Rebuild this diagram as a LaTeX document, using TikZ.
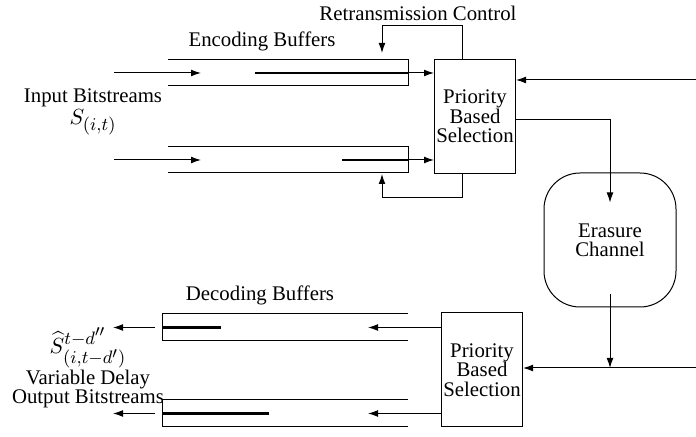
\documentclass[tikz,border=0pt]{standalone}
\usepackage{amsmath}
\usepackage{amssymb}
\usepackage{fontspec}
\setmainfont{Liberation Serif}
\DeclareMathSizes{10.4}{11}{9.5}{8}
\usetikzlibrary{arrows.meta}

\begin{document}
\begin{tikzpicture}[x=0.5pt, y=-0.5pt, line width=0.5pt,
	>={Latex[length=5pt,width=3.4pt]},
	font=\fontsize{10.4}{9.7}\selectfont,
	selbox/.style={draw, align=center, inner sep=0pt, minimum width=40.5pt, minimum height=57pt},
	chanbox/.style={draw, align=center, rounded corners=18pt, minimum width=66pt, minimum height=67pt},
	fillline/.style={line width=1.2pt}]
	\useasboundingbox (0,0) rectangle (696,437);
	\node[selbox] (sel1) at (475,116.5) {Priority\\Based\\Selection};
	\node[selbox] (sel2) at (482,370) {Priority\\Based\\Selection};
	\node[chanbox] (chan) at (610,240) {Erasure\\Channel};
	\foreach \y/\f [count=\i] in {60/255, 147/342} {
		\draw (168,\y) -- (408,\y) -- (408,\y+26) -- (168,\y+26);
		\coordinate (enc\i) at (408,\y+13);
		\draw[fillline] (\f,\y+13) -- (enc\i);
		\draw[->] (114,\y+13) -- (201,\y+13);
		\draw[->] (enc\i) -- (sel1.west |- enc\i);
	}
	\foreach \y/\f [count=\i] in {314/221, 400/269} {
		\draw (408,\y) -- (162,\y) -- (162,\y+27) -- (408,\y+27);
		\coordinate (dec\i) at (162,\y+13.5);
		\draw[fillline] (dec\i) -- (\f,\y+13.5);
		\draw[->] (sel2.west |- dec\i) -- (368,\y+13.5);
		\draw[->] ([xshift=-3.5pt]dec\i) -- (113,\y+13.5);
	}
	\draw[->] ([xshift=-6.5pt]sel1.north) |- (382,26) -- (382,53);
	\draw[->] ([xshift=-6.5pt]sel1.south) |- (382,198) -- (382,174);
	\coordinate (fb) at (696,80);
	\draw[->] (fb) -- (sel1.east |- fb);
	\draw[->] ([yshift=-1.75pt]sel1.east) -| ([yshift=-15pt]chan.north);
	\coordinate (fw) at (696,368);
	\draw[->] ([yshift=6.5pt]chan.south) -- (chan.south |- fw);
	\draw[->] (fw) -- (sel2.east |- fw);
	\node (rtx) at (418,13) {Retransmission Control};
	\node (encl) at (262,41) {Encoding Buffers};
	\node (decl) at (260,295) {Decoding Buffers};
	\node[align=center] (inl) at (93,112) {Input Bitstreams\\[1pt]$S_{(i,t)}$};
	\node[align=center, inner sep=0pt] (outl) at (88,368) {$\widehat{S}^{t-d''}_{(i,t-d')}$\\Variable Delay\\Output Bitstreams};
\end{tikzpicture}
\end{document}
